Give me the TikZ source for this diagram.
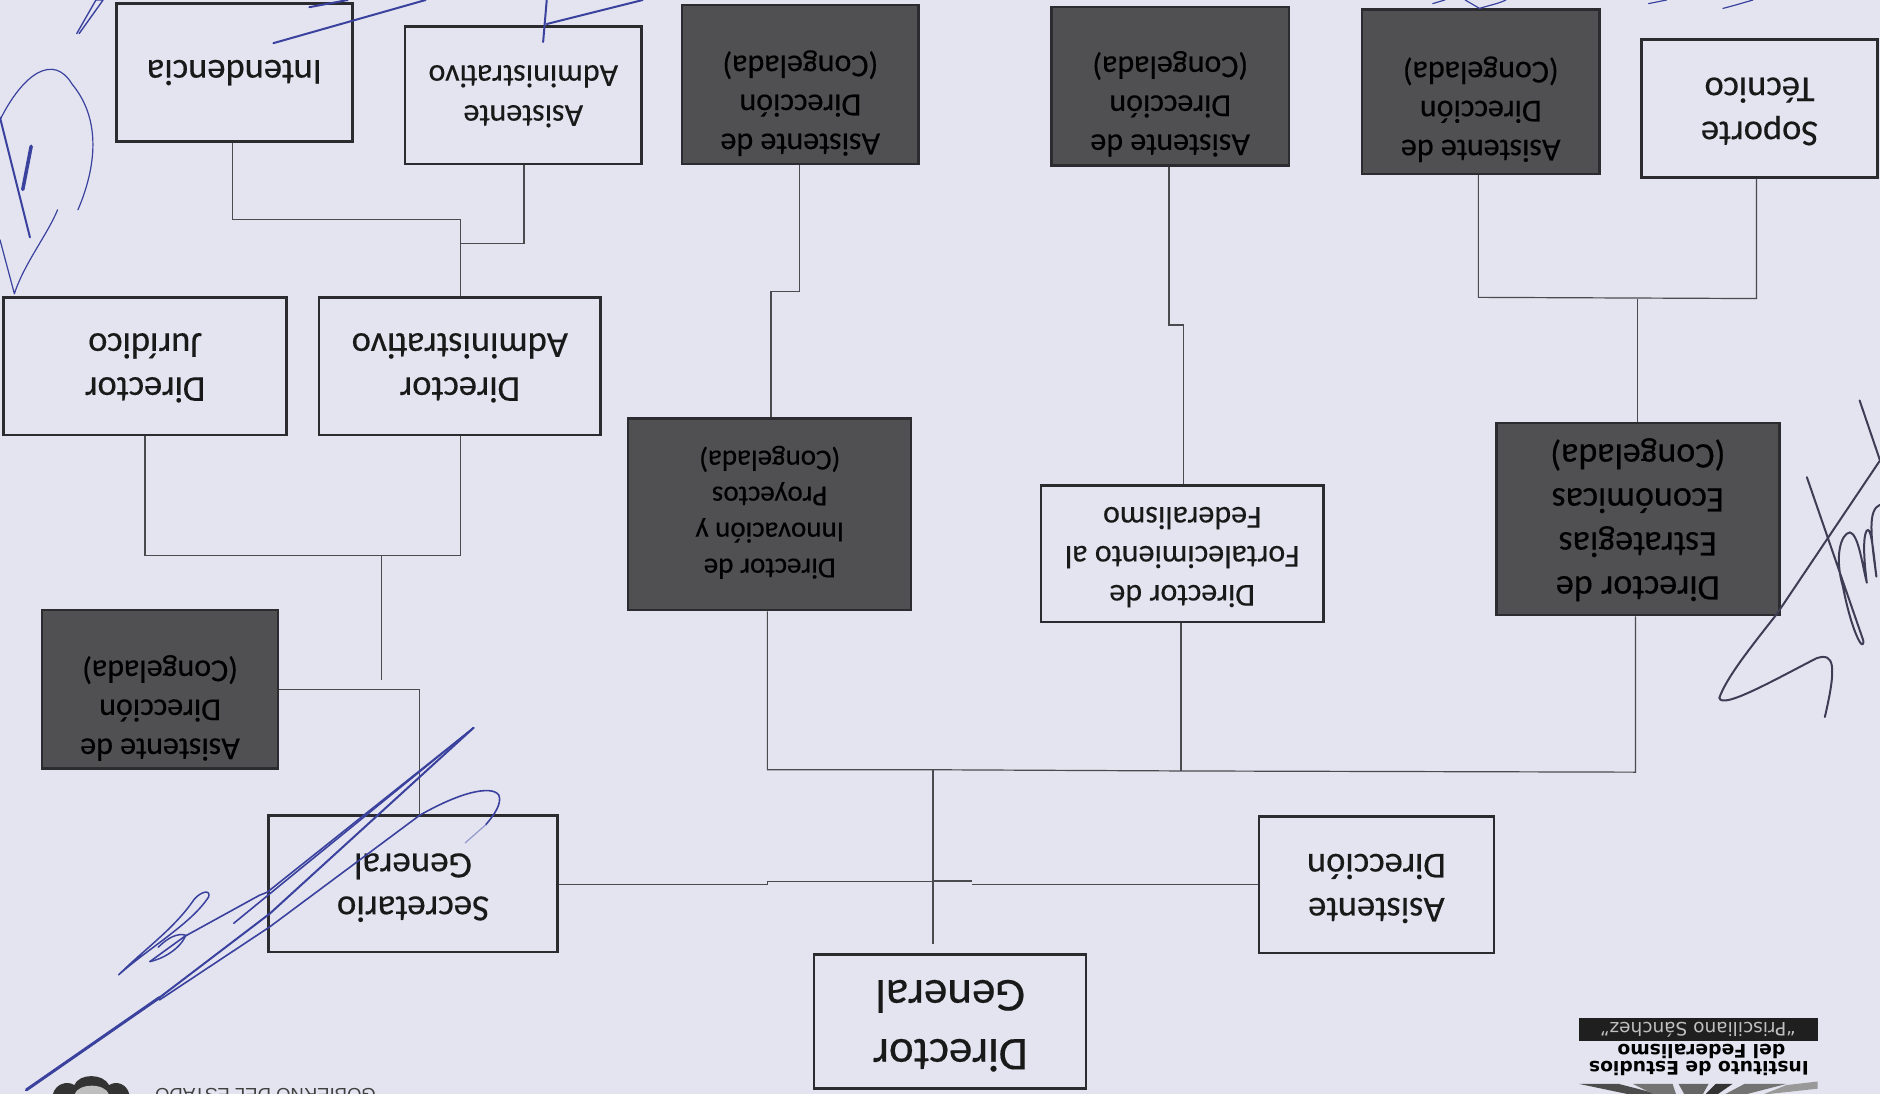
\documentclass[tikz,border=0pt]{standalone}
\usepackage{fontspec}
\usepackage{graphicx}
\setmainfont{Carlito}
\newfontfamily\logofont{DejaVu Sans}
\newfontfamily\crestfont{Liberation Sans}
\newcommand{\ut}[3]{\rotatebox[origin=c]{180}{\fontsize{#1}{#2}\selectfont\addfontfeature{FakeBold=0.35}\begin{tabular}{@{}c@{}}#3\end{tabular}}}
\newcommand{\orgbox}[7][lightbox]{%
  \pgfmathsetmacro{\bw}{(#5-#3)*1.199}%
  \pgfmathsetmacro{\bh}{(#6-#4)*1.199}%
  \node[#1,minimum width=\bw pt,minimum height=\bh pt] (#2) at ({(#3+#5)/2},{(#4+#6)/2}) {#7};}
\definecolor{paper}{HTML}{E4E4F1}
\definecolor{ink}{HTML}{2B2B30}
\definecolor{darkfill}{HTML}{505052}
\definecolor{pen}{HTML}{3A429E}
\definecolor{pentwo}{HTML}{3D3D55}
\tikzset{
  lightbox/.style={draw=ink,line width=2.4pt,fill=paper,inner sep=0pt,text=black!90},
  darkbox/.style={draw=ink,line width=2.4pt,fill=darkfill,inner sep=0pt,text=black},
  conn/.style={draw=ink!85,line width=1.2pt},
  sig/.style={draw=pen,line width=2pt,line cap=round,line join=round},
  sigfine/.style={draw=pen,line width=1.2pt,line cap=round,line join=round},
  sigdark/.style={draw=pentwo,line width=2pt,line cap=round,line join=round}
}
\begin{document}
\begin{tikzpicture}[x=1.199pt,y=-1.199pt]
\useasboundingbox (0,0) rectangle (1568,912.4);
\clip (0,0) rectangle (1568,912.4);
\fill[paper] (0,0) rectangle (1568,912.4);

% boxes
\orgbox{dg}{679}{796}{906}{908}{\ut{47}{59}{Director\\General}}
\orgbox{sec}{224}{680}{465}{794}{\ut{37}{43}{Secretario\\General}}
\orgbox{aux}{1050}{681}{1246}{795}{\ut{36.5}{44}{Asistente\\Dirección}}
\orgbox[darkbox]{ad1}{35}{509}{232}{641}{\ut{32}{39}{Asistente de\\Dirección\\(Congelada)\\[36pt]}}
\orgbox{dj}{3}{248}{239}{363}{\ut{36.5}{44}{\rule{0pt}{35pt}Director\\Jurídico}}
\orgbox{da}{266}{248}{501}{363}{\ut{36.5}{44}{\rule{0pt}{35pt}Director\\Administrativo}}
\orgbox{int}{97}{3}{294}{118}{\ut{36.5}{44}{\rule{0pt}{38pt}Intendencia}}
\orgbox{as}{338}{22}{535}{137}{\ut{32}{40}{\rule{0pt}{32pt}Asistente\\Administrativo}}
\orgbox[darkbox]{a2}{569}{4}{766}{137}{\ut{32}{39}{Asistente de\\Dirección\\(Congelada)\\[36pt]}}
\orgbox[darkbox]{a3}{877}{6}{1075}{138}{\ut{32}{39}{Asistente de\\Dirección\\(Congelada)\\[34pt]}}
\orgbox[darkbox]{a4}{1136}{8}{1334}{145}{\ut{32}{39}{Asistente de\\Dirección\\(Congelada)\\[34pt]}}
\orgbox{sop}{1369}{33}{1566}{148}{\ut{36.5}{44}{Soporte\\Técnico}}
\orgbox[darkbox]{inn}{524}{349}{760}{509}{\ut{29}{36}{\rule{0pt}{30pt}Director de\\Innovación y\\Proyectos\\(Congelada)}}
\orgbox{for}{868}{405}{1104}{519}{\ut{32}{39}{Director de\\Fortalecimiento al\\Federalismo}}
\orgbox[darkbox]{est}{1248}{353}{1484}{513}{\ut{36}{44}{Director de\\Estrategias\\Económicas\\(Congelada)}}

% junction coordinates
\coordinate (busL) at (640,642);
\coordinate (busC) at (778,642);
\coordinate (busF) at (985,643);
\coordinate (busR) at (1364,644);
\coordinate (mA) at (640,738);
\coordinate (mB) at (640,735);
\coordinate (mC) at (778,735);
\coordinate (mD) at (811,735);
\coordinate (mE) at (811,737.5);
\coordinate (dgEnd) at (778,787);
\coordinate (j1) at (350,575);
\coordinate (j2) at (318,567);
\coordinate (j3) at (318,463);
\coordinate (j4) at (121,463);
\coordinate (j5) at (384,463);
\coordinate (j6) at (384,183);
\coordinate (j7) at (194,183);
\coordinate (j8) at (384,203);
\coordinate (j9) at (437,203);
\coordinate (k1) at (643,243);
\coordinate (k2) at (667,243);
\coordinate (m1) at (987,271);
\coordinate (m2) at (975,271);
\coordinate (n1) at (1366,249);
\coordinate (n2) at (1233,248);
\coordinate (n3) at (1465,249);

% connectors
\draw[conn,line width=2pt] (dgEnd) -- (busC);
\draw[conn] (inn.south -| busL) -- (busL) -- (busC) -- (busF) -- (busR) -- (est.south -| busR);
\draw[conn] (for.south -| busF) -- (busF);
\draw[conn] (sec.east |- mA) -- (mA) -- (mB) -- (mC);
\draw[conn,line width=2.4pt] (mC) -- (mD);
\draw[conn] (mE) -- (aux.west |- mE);
\draw[conn] (sec.north -| j1) -- (j1) -- (ad1.east |- j1);
\draw[conn] (j2) -- (j3);
\draw[conn] (dj.south -| j4) -- (j4) -- (j5) -- (da.south -| j5);
\draw[conn] (da.north -| j6) -- (j6) -- (j7) -- (int.south -| j7);
\draw[conn] (j8) -- (j9) -- (as.south -| j9);
\draw[conn] (inn.north -| k1) -- (k1) -- (k2) -- (a2.south -| k2);
\draw[conn] (for.north -| m1) -- (m1) -- (m2) -- (a3.south -| m2);
\draw[conn] (est.north -| n1) -- (n1);
\draw[conn] (a4.south -| n2) -- (n2) -- (n3) -- (sop.south -| n3);

% logo, bottom right
\fill[black!88] (1317,849) rectangle (1516,868);
\node[text=black!25,inner sep=0pt] (lgA) at (1416,858.5) {\rotatebox[origin=c]{180}{\logofont\fontsize{18.5}{20}\selectfont “Prisciliano Sánchez”}};
\node[inner sep=0pt,text=black] (lgB) at (1419,877) {\rotatebox[origin=c]{180}{\logofont\bfseries\fontsize{18.7}{20}\selectfont del Federalismo}};
\node[inner sep=0pt,text=black] (lgC) at (1417,891.5) {\rotatebox[origin=c]{180}{\logofont\bfseries\fontsize{18.7}{20}\selectfont Instituto de Estudios}};
\fill[black!70] (1317,904) -- (1350,904) -- (1385,913) -- (1360,913) -- cycle;
\fill[black!55] (1362,904) -- (1395,904) -- (1398,913) -- (1380,913) -- cycle;
\fill[black!60] (1400,904) -- (1425,904) -- (1420,913) -- (1405,913) -- cycle;
\fill[black!80] (1431,904) -- (1445,904) -- (1432,913) -- (1422,913) -- cycle;
\fill[black!55] (1455,904) -- (1490,904) -- (1455,913) -- (1438,913) -- cycle;
\fill[black!40] (1490,905) -- (1516,902) -- (1516,908) -- (1470,913) -- cycle;

% crest and heading, bottom left
\fill[black!80] (44,913) .. controls (46,904) and (56,901) .. (62,905) .. controls (66,895) and (86,895) .. (91,905) .. controls (97,901) and (106,904) .. (108,913) -- cycle;
\fill[black!25] (62,913) .. controls (65,903) and (88,903) .. (91,913) -- cycle;
\node[inner sep=0pt,anchor=base,text=black!75] (crest) at (221.5,908) {\rotatebox{180}{\crestfont\fontsize{18.5}{20}\selectfont GOBIERNO DEL ESTADO}};

% signature, Secretario
\draw[sig,line width=3pt] (22,909) -- (133,832);
\draw[sig] (133,832) -- (225,762) -- (395,607);
\draw[sig,line width=1.6pt] (395,607) -- (223,744) .. controls (219,746) and (217,746) .. (214,748) -- (154,781) -- (125,802);
\draw[sig,line width=1.6pt] (395,607) -- (250,725) -- (195,770);
\draw[sig,line width=1.6pt] (133,834) -- (225,773) -- (350,680) .. controls (385,660) and (410,655) .. (416,663) .. controls (419,670) and (412,680) .. (405,688);
\draw[sigfine,draw=pen!55] (405,688) -- (388,703);
\draw[sig,line width=1.5pt] (99,813) .. controls (125,790) and (160,770) .. (174,748) .. controls (176,742) and (168,743) .. (162,750) .. controls (145,775) and (120,792) .. (99,813);
\draw[sig,line width=1.5pt] (125,802) .. controls (135,800) and (150,792) .. (155,780) .. controls (148,778) and (140,782) .. (132,790);
% signature, top left
\draw[sigfine] (0,100) .. controls (20,60) and (45,45) .. (60,70) .. controls (85,100) and (80,140) .. (65,175);
\draw[sig] (0,98) -- (25,198);
\draw[sig,line width=3.5pt] (19,158) -- (26,122);
\draw[sigfine] (48,175) .. controls (40,195) and (20,220) .. (12,245) -- (0,200);
\draw[sig,line width=1.4pt] (64,28) -- (80,0) -- (86,0) -- (66,28);
\draw[sig] (228,36) -- (355,0);
\draw[sig] (258,6) -- (290,0);
\draw[sig] (453,35) -- (456,0);
\draw[sig] (456,20) -- (536,0);
% signature, top right
\draw[sigfine] (1222,0) -- (1234,7) .. controls (1240,5) and (1250,3) .. (1256,0);
\draw[sigfine] (1195,3) -- (1205,0);
\draw[sigfine] (1437,7) .. controls (1445,5) and (1455,2) .. (1462,0);
\draw[sigfine] (1375,3) -- (1390,0);
% signature, right
\draw[sigdark] (1551,334) -- (1568,384) -- (1482,512) .. controls (1460,540) and (1440,565) .. (1434,582) .. controls (1436,592) and (1480,567) .. (1515,549) .. controls (1530,544) and (1532,555) .. (1522,598);
\draw[sigdark] (1507,398) -- (1554,534) .. controls (1555,545) and (1545,530) .. (1537,489) .. controls (1530,465) and (1535,445) .. (1543,444) .. controls (1550,446) and (1553,470) .. (1557,486) .. controls (1553,455) and (1555,442) .. (1558,442) .. controls (1561,442) and (1563,465) .. (1565,481) .. controls (1560,445) and (1558,425) .. (1568,421);
\end{tikzpicture}
\end{document}
